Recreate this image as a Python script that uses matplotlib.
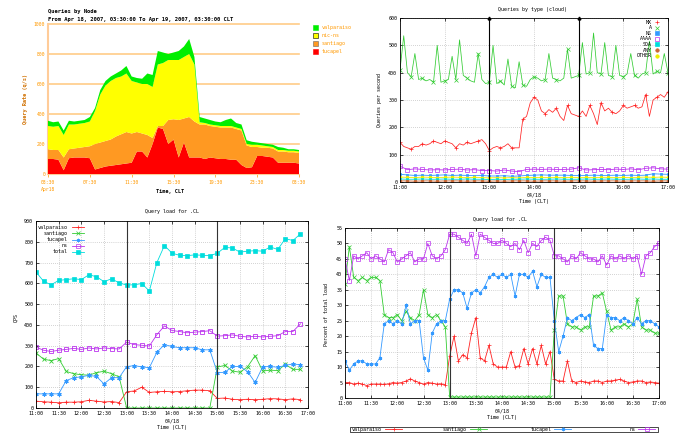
import numpy as np
import matplotlib
matplotlib.use("Agg")
import matplotlib.pyplot as plt
from matplotlib.lines import Line2D
from matplotlib.patches import Rectangle

plt.rcParams["font.family"] = ["DejaVu Sans Mono"]

# --- Queries by Node (every 30 min from 03:30 Apr 18), q/s per node
node_tucapel = [100, 100, 95, 25, 105, 110, 110, 110, 105, 30, 40, 50, 55, 60, 65, 70, 75,
                150, 150, 110, 200, 310, 300, 200, 230, 110, 210, 110, 110, 110, 100, 110,
                105, 100, 100, 95, 95, 60, 40, 45, 120, 120, 115, 110, 75, 75, 75, 75, 70]
node_santiago = [65, 60, 65, 85, 60, 60, 65, 70, 80, 170, 170, 170, 175, 190, 200, 210, 195,
                 130, 120, 150, 40, 10, 20, 160, 135, 250, 160, 270, 240, 220, 230, 210,
                 210, 210, 210, 215, 205, 230, 150, 135, 60, 55, 60, 60, 75, 75, 70, 70, 70]
node_nicns = [155, 155, 160, 150, 165, 160, 160, 160, 165, 220, 320, 370, 390, 390, 385, 390, 350,
              330, 330, 340, 340, 410, 420, 400, 395, 400, 410, 420, 380, 15, 10, 10,
              10, 10, 10, 10, 10, 10, 10, 15, 15, 15, 10, 10, 10, 10, 10, 10, 10]
node_valparaiso = [35, 30, 30, 30, 25, 20, 20, 20, 30, 20, 30, 30, 30, 30, 40, 50, 30,
                   30, 35, 70, 80, 90, 70, 40, 50, 60, 70, 100, 50, 35, 30, 30,
                   25, 25, 40, 50, 30, 30, 25, 20, 15, 15, 15, 15, 20, 15, 10, 10, 10]
node_ticks = ["03:30", "07:30", "11:30", "15:30", "19:30", "23:30", "03:30"]

# --- Queries by type (cloud), 11:00-17:00
type_A = [410, 535, 400, 385, 470, 375, 380, 370, 375, 365, 500, 365,
          370, 375, 460, 375, 520, 390, 380, 370, 365, 470, 375, 360,
          365, 500, 360, 370, 355, 450, 350, 345, 440, 355, 350, 375,
          385, 380, 370, 375, 470, 380, 375, 370, 380, 485, 380, 385,
          390, 510, 395, 400, 545, 400, 395, 510, 390, 385, 500, 390,
          385, 395, 470, 390, 380, 395, 400, 515, 395, 405, 400, 470,
          400]
type_MX = [145, 130, 125, 120, 130, 130, 140, 135, 140, 150, 145, 140,
           150, 145, 140, 125, 140, 135, 145, 140, 145, 150, 155, 140,
           115, 125, 130, 125, 130, 140, 125, 125, 125, 230, 240, 290,
           310, 300, 260, 250, 265, 255, 270, 240, 225, 280, 250, 245,
           240, 260, 240, 280, 250, 210, 290, 260, 270, 255, 250, 260,
           280, 270, 275, 280, 270, 275, 320, 240, 300, 310, 320, 310,
           330]
type_AAAA = [58, 45, 48, 46, 44, 45, 44, 46, 47, 44, 45, 42, 42, 40, 44, 40, 38, 46,
             47, 46, 47, 46, 46, 47, 52, 44, 45, 46, 45, 47, 46, 48, 45, 50, 52, 48, 47]
type_NS = [28, 26, 24, 25, 24, 25, 26, 24, 25, 24, 23, 24, 22, 22, 23, 21, 22, 24,
           25, 26, 25, 25, 25, 24, 24, 24, 25, 24, 24, 25, 24, 25, 24, 25, 30, 29, 28]
type_OTHER = [18, 17, 16, 18, 17, 16, 17, 18, 17, 16, 17, 16, 15, 16, 15, 16, 15, 17,
              16, 17, 16, 17, 16, 17, 16, 17, 16, 17, 17, 16, 17, 16, 17, 18, 17, 18, 17]
type_SOA = [11, 10, 10, 11, 10, 10, 11, 10, 10, 11, 10, 10, 9, 10, 9, 10, 10, 11,
            10, 10, 10, 11, 10, 10, 10, 11, 10, 10, 11, 10, 10, 10, 11, 10, 11, 10, 10]
type_ANY = [4, 4, 3, 4, 4, 3, 4, 4, 4, 3, 4, 4, 3, 4, 3, 4, 4, 4,
            3, 4, 4, 4, 3, 4, 4, 4, 3, 4, 4, 4, 3, 4, 4, 4, 3, 4, 4]

# --- Query load for .CL, QPS every 10 min 11:00-16:50
qps_valparaiso = [33, 30, 28, 25, 28, 28, 30, 37, 33, 29, 31, 26,
                  78, 82, 100, 75, 78, 80, 78, 79, 83, 86, 86, 83,
                  46, 48, 42, 40, 42, 40, 42, 45, 44, 40, 44, 40]
qps_santiago = [265, 235, 228, 238, 176, 165, 160, 158, 170, 177, 165, 150,
                0, 0, 0, 0, 0, 0, 0, 0, 0, 0, 0, 0,
                197, 205, 178, 172, 198, 252, 178, 182, 180, 210, 186, 186]
qps_tucapel = [68, 68, 68, 68, 132, 146, 150, 157, 152, 116, 146, 146,
               199, 204, 198, 194, 268, 305, 296, 290, 290, 290, 280, 280,
               170, 172, 200, 200, 175, 123, 198, 200, 196, 205, 212, 208]
qps_ns = [293, 278, 272, 278, 282, 287, 282, 289, 284, 289, 286, 284,
          317, 305, 302, 298, 353, 395, 373, 368, 362, 365, 368, 372,
          346, 348, 352, 345, 342, 345, 342, 345, 348, 368, 368, 405]
qps_total = [655, 610, 593, 614, 618, 622, 618, 641, 632, 608, 622, 602,
             592, 593, 599, 563, 700, 782, 745, 735, 733, 737, 735, 733,
             745, 773, 770, 750, 755, 757, 755, 775, 763, 815, 806, 838]

# --- Query load for .CL, percent of total, every 5 min 11:00-17:00
pct_valparaiso = [5, 5, 4.5, 4.8, 4.5, 4, 4.5, 4.5, 4.5, 4.4, 4.6, 5,
                  4.8, 5, 5.5, 6.2, 5.5, 5, 4.5, 5, 4.8, 4.5, 4.6, 4.3,
                  13.5, 20, 12, 14, 13, 21, 26, 13, 12, 17, 11, 10,
                  10, 10, 15, 10, 10.5, 16, 11, 16, 11, 17, 11, 15,
                  6, 5.5, 5.5, 12, 5.5, 5, 5.5, 5.2, 5, 5.5, 5.5, 5,
                  5.5, 5.5, 5.8, 6, 5.5, 5, 5.2, 5.5, 5.5, 5, 5.2, 5,
                  4.8]
pct_santiago = [37, 49, 39, 38, 39, 38, 39, 39, 38, 27, 26, 26,
                27, 25, 28, 26, 25, 27, 35, 27, 26, 27, 25, 23,
                0.3, 0.3, 0.3, 0.3, 0.3, 0.3, 0.3, 0.3, 0.3, 0.3, 0.3, 0.3,
                0.3, 0.3, 0.3, 0.3, 0.3, 0.3, 0.3, 0.3, 0.3, 0.3, 0.3, 0.3,
                22, 33, 33, 24, 23, 23, 22, 23, 23, 33, 33, 34,
                28, 22, 23, 23, 24, 23, 24, 32, 23, 22, 22, 21,
                21]
pct_tucapel = [12, 9, 11, 12, 12, 11, 11, 11, 13, 24, 25, 24,
               25, 24, 30, 24, 25, 25, 13, 9, 21, 24, 25, 25,
               32, 35, 35, 34, 29, 34, 35, 34, 36, 39, 40, 39,
               40, 39, 40, 33, 40, 40, 39, 41, 36, 40, 39, 39,
               25, 15, 20, 26, 25, 26, 27, 26, 27, 17, 16, 16,
               27, 26, 26, 25, 26, 25, 24, 26, 24, 25, 25, 24,
               23]
pct_ns = [45, 38, 46, 45, 46, 47, 45, 46, 45, 44, 48, 47,
          44, 45, 46, 47, 44, 45, 45, 50, 46, 45, 46, 48,
          53, 53, 52, 51, 50, 53, 46, 53, 52, 51, 50, 50,
          51, 50, 49, 50, 48, 51, 47, 50, 49, 51, 52, 51,
          46, 46, 45, 44, 46, 45, 47, 46, 45, 45, 44, 46,
          43, 46, 45, 46, 45, 46, 45, 46, 40, 46, 47, 49,
          50]

hour_labels = ["11:00", "12:00", "13:00", "14:00", "15:00", "16:00", "17:00"]
half_labels = ["11:00", "11:30", "12:00", "12:30", "13:00", "13:30", "14:00", "14:30",
               "15:00", "15:30", "16:00", "16:30", "17:00"]

RED, GREEN, BLUE, MAG, CYAN = "#ff2222", "#33cc33", "#3399ff", "#bb33ee", "#00dddd"
FS = 3.6

W, H = 680, 433
fig = plt.figure(figsize=(W / 100, H / 100), dpi=100)


def axes_px(x0, y0, x1, y1):
    return fig.add_axes([x0 / W, 1 - y1 / H, (x1 - x0) / W, (y1 - y0) / H])


def text_px(x, y, s, **kw):
    kw.setdefault("fontsize", FS)
    kw.setdefault("va", "center")
    fig.text(x / W, 1 - y / H, s, **kw)


def sample_px(x0, x1, y, color, marker, filled, line=True):
    yy = 1 - y / H
    if line:
        fig.add_artist(Line2D([x0 / W, x1 / W], [yy, yy], color=color, lw=0.6))
    fig.add_artist(Line2D([(x0 + x1) / 2 / W], [yy], lw=0, color=color, marker=marker,
                          ms=2.5, mew=0.5, mfc=color if filled else "none"))


def gnuplot_look(ax, xt, xl, yt):
    ax.set_xticks(xt)
    ax.set_xticklabels(xl)
    ax.set_yticks(yt)
    ax.tick_params(direction="in", length=2.5, width=0.5, top=True, right=True,
                   labelsize=FS, pad=2)
    ax.grid(True, color="#aaaaaa", linestyle=(0, (1, 2)), linewidth=0.5)
    for s in ax.spines.values():
        s.set_linewidth(0.6)


# ---------------- top left: Queries by Node
ax = axes_px(48, 24, 299, 174)
hrs = np.arange(len(node_tucapel)) * 0.5
ax.stackplot(hrs, node_tucapel, node_santiago, node_nicns, node_valparaiso,
             colors=["#ff0000", "#ff9922", "#ffff00", "#00ee00"], lw=0, zorder=3)
for v in range(200, 1001, 200):
    ax.axhline(v, color="#ffcc88", lw=1.2, zorder=1, clip_on=False)
ax.set_xlim(0, 24)
ax.set_ylim(0, 1000)
ax.set_xticks(range(0, 25, 4))
ax.set_xticklabels(node_ticks)
ax.set_yticks(range(0, 1001, 200))
ax.spines[["top", "right"]].set_visible(False)
ax.spines["left"].set_color("#ffcc99")
ax.spines["left"].set_linewidth(1.5)
ax.spines["bottom"].set_color("#ffcc99")
ax.tick_params(colors="#ff9900", labelsize=3.4, length=2, width=0.5, pad=2)
ax.tick_params(axis="y", length=0)
ax.set_ylabel("Query Rate (q/s)", fontsize=3.8, color="#d07000", fontweight="bold", labelpad=4)
text_px(48, 12, "Queries by Node", fontsize=4, fontweight="bold")
text_px(48, 20, "From Apr 18, 2007, 03:30:00 To Apr 19, 2007, 03:30:00 CLT",
        fontsize=4, fontweight="bold")
text_px(41, 190, "Apr18", fontsize=3.4, color="#ff9900")
text_px(170, 192, "Time, CLT", fontsize=3.8, ha="center", fontweight="bold")
node_keys = [("valparaiso", "#00ee00", "#00ee00"), ("nic-ns", "#ffff00", "#000000"),
             ("santiago", "#ff9922", "#666666"), ("tucapel", "#ff0000", "#ff0000")]
for i, (lab, col, edge) in enumerate(node_keys):
    yk = 27 + i * 8.2
    fig.add_artist(Rectangle((313 / W, 1 - (yk + 2.5) / H), 5 / W, 5 / H, facecolor=col,
                             edgecolor=edge, lw=0.4, transform=fig.transFigure))
    text_px(322, yk, lab, fontsize=3.6, color="#ff9900")

# ---------------- top right: Queries by type
ax = axes_px(400, 18, 668, 182)
t5 = 11 + np.arange(len(type_A)) / 12
t10 = 11 + np.arange(len(type_AAAA)) / 6
ax.plot(t5, type_A, color=GREEN, lw=0.55, marker="x", ms=2.5, mew=0.5, markevery=3)
ax.plot(t5, type_MX, color=RED, lw=0.55, marker="+", ms=2.5, mew=0.5, markevery=3)
ax.plot(t10, type_AAAA, color=MAG, lw=0.6, marker="s", mfc="none", ms=2.5, mew=0.5)
ax.plot(t10, type_NS, color=BLUE, lw=0.6, marker="s", ms=2, mew=0.5)
ax.plot(t10, type_OTHER, color="#eeee00", lw=0.6, marker="o", ms=2, mew=0.5)
ax.plot(t10, type_SOA, color=CYAN, lw=0.6, marker="s", ms=2, mew=0.5)
ax.plot(t10, type_ANY, color="#cc6633", lw=0.6, marker="o", ms=2, mew=0.5)
for t in (13, 15):
    ax.axvline(t, color="black", lw=0.8)
    ax.plot([t], [600], marker="^", color="black", ms=2, clip_on=False)
ax.set_xlim(11, 17)
ax.set_ylim(0, 600)
gnuplot_look(ax, range(11, 18), hour_labels, range(0, 601, 100))
ax.set_xlabel("04/18\nTime (CLT)", fontsize=FS, labelpad=2, linespacing=1.4)
text_px(533, 10, "Queries by type (cloud)", ha="center")
text_px(380, 100, "Queries per second", ha="center", rotation=90)
type_keys = [("MX", RED, "+", True), ("A", GREEN, "x", True), ("NS", BLUE, "s", True),
             ("AAAA", MAG, "s", False), ("SOA", CYAN, "s", True), ("ANY", "#cc6633", "o", True),
             ("OTHER", "#eeee00", "o", True)]
for i, (lab, col, mk, filled) in enumerate(type_keys):
    yk = 22 + i * 5.6
    text_px(652, yk, lab, ha="right")
    sample_px(656, 658, yk, col, mk, filled, line=False)

# ---------------- bottom left: Query load QPS
ax = axes_px(36, 221, 308, 408)
t10b = 11 + np.arange(len(qps_total)) / 6
ax.plot(t10b, qps_valparaiso, color=RED, lw=0.6, marker="+", ms=3, mew=0.6)
ax.plot(t10b, qps_santiago, color=GREEN, lw=0.6, marker="x", ms=2.5, mew=0.6)
ax.plot(t10b, qps_tucapel, color=BLUE, lw=0.6, marker=(6, 2, 0), ms=3, mew=0.8)
ax.plot(t10b, qps_ns, color=MAG, lw=0.6, marker="s", mfc="none", ms=3, mew=0.6)
ax.plot(t10b, qps_total, color=CYAN, lw=0.6, marker="s", ms=3, mew=0.5)
for t in (13, 15):
    ax.axvline(t, color="#333333", lw=0.8)
ax.set_xlim(11, 17)
ax.set_ylim(0, 900)
gnuplot_look(ax, np.arange(11, 17.01, 0.5), half_labels, range(0, 901, 100))
ax.set_xlabel("04/18\nTime (CLT)", fontsize=FS, labelpad=2, linespacing=1.4)
text_px(172, 212, "Query load for .CL", ha="center")
text_px(16, 317, "QPS", ha="center", rotation=90)
qps_keys = [("valparaiso", RED, "+", True), ("santiago", GREEN, "x", True),
            ("tucapel", BLUE, (6, 2, 0), True), ("ns", MAG, "s", False), ("total", CYAN, "s", True)]
for i, (lab, col, mk, filled) in enumerate(qps_keys):
    yk = 227.3 + i * 6.1
    text_px(68, yk, lab, ha="right")
    sample_px(72, 84, yk, col, mk, filled)

# ---------------- bottom right: Query load percent
ax = axes_px(345, 228, 659, 398)
t5b = 11 + np.arange(len(pct_ns)) / 12
ax.plot(t5b, pct_valparaiso, color=RED, lw=0.6, marker="+", ms=2.5, mew=0.5)
ax.plot(t5b, pct_santiago, color=GREEN, lw=0.6, marker="x", ms=2.2, mew=0.5)
ax.plot(t5b, pct_tucapel, color=BLUE, lw=0.6, marker=(6, 2, 0), ms=2.5, mew=0.7)
ax.plot(t5b, pct_ns, color=MAG, lw=0.6, marker="s", mfc="none", ms=2.5, mew=0.5)
for t in (13, 15):
    ax.axvline(t, color="#333333", lw=0.8)
ax.set_xlim(11, 17)
ax.set_ylim(0, 55)
gnuplot_look(ax, np.arange(11, 17.01, 0.5), half_labels, range(0, 56, 5))
ax.set_xlabel("04/18\nTime (CLT)", fontsize=FS, labelpad=2, linespacing=1.4)
text_px(500, 219, "Query load for .CL", ha="center")
text_px(327, 315, "Percent of total load", ha="center", rotation=90)
fig.add_artist(Rectangle((350 / W, 1 - 432 / H), 308 / W, 5.5 / H, facecolor="none",
                         edgecolor="black", lw=0.5, transform=fig.transFigure))
pct_keys = [("valparaiso", RED, "+", True, 382, 385), ("santiago", GREEN, "x", True, 467, 470),
            ("tucapel", BLUE, (6, 2, 0), True, 552, 554), ("ns", MAG, "s", False, 636, 638)]
for lab, col, mk, filled, xt, xs in pct_keys:
    text_px(xt, 429.3, lab, ha="right")
    sample_px(xs, xs + 17, 429.3, col, mk, filled)

fig.savefig("out.png", dpi=100)
